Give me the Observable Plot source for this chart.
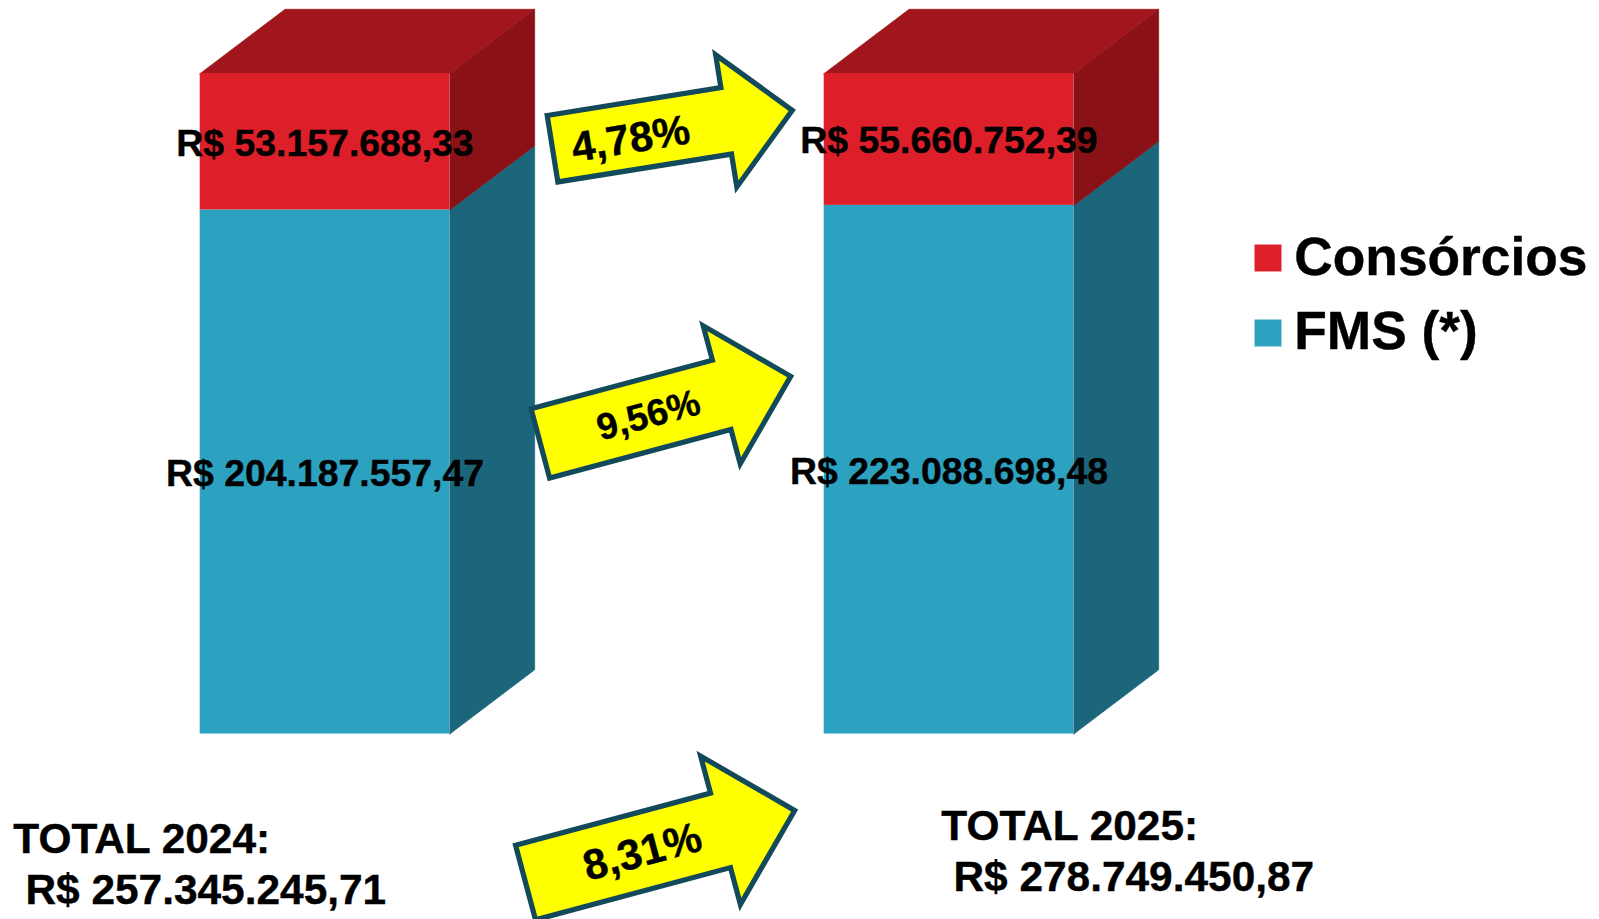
<!DOCTYPE html>
<html lang="pt-BR">
<head>
<meta charset="utf-8">
<title>Consórcios e FMS 2024–2025</title>
<style>
  html, body { margin: 0; padding: 0; background: #fff; overflow: hidden; }
  svg { display: block; }
</style>
<script src="https://cdn.jsdelivr.net/npm/d3@7"></script>
<script src="https://cdn.jsdelivr.net/npm/@observablehq/plot@0.6"></script>
</head>
<body>
<div id="chart"></div>
<script>
// ---- data
const years = ["2024", "2025"];
const seriesNames = ["FMS (*)", "Consórcios"];
const fmsValues = [204187557.47, 223088698.48];
const consorciosValues = [53157688.33, 55660752.39];
const fmsLabels = ["R$ 204.187.557,47", "R$ 223.088.698,48"];
const consorciosLabels = ["R$ 53.157.688,33", "R$ 55.660.752,39"];
const totalHeadings = ["TOTAL 2024:", "TOTAL 2025:"];
const totalLabels = ["R$ 257.345.245,71", "R$ 278.749.450,87"];
const growthLabels = ["4,78%", "9,56%", "8,31%"];

// ---- styles and layout
const font = "'Liberation Sans', Arial, sans-serif";
const barStart = [0, 2.5];                 // left edge of each bar, in bar widths
const depthX = 0.34, depthY = 9.72;        // oblique depth, in bar widths and percent
const colors = {
  "Consórcios": {front: "#dd1f2a", side: "#8a1217", top: "#a1151d"},
  "FMS (*)": {front: "#2ca2c0", side: "#1c667c"}
};
const xDomain = [0, 1], xRange = [199.7, 449.3];
const yDomain = [0, 100], yRange = [733.5, 73];
// annotation placement: pixel position to the data position of the same scales
const ax = d3.scaleLinear(xRange, xDomain);
const ay = d3.scaleLinear(yRange, yDomain);

// ---- table built from the arrays: a 100% stack per year
const segments = years.flatMap((year, i) => {
  const total = fmsValues[i] + consorciosValues[i];
  const share = fmsValues[i] / total * 100;
  return [
    {year, series: "FMS (*)", label: fmsLabels[i], x1: barStart[i], x2: barStart[i] + 1, y1: 0, y2: share},
    {year, series: "Consórcios", label: consorciosLabels[i], x1: barStart[i], x2: barStart[i] + 1, y1: share, y2: 100}
  ];
});
const faces = segments.flatMap((s) => {
  const side = [[s.x2, s.y1], [s.x2 + depthX, s.y1 + depthY], [s.x2 + depthX, s.y2 + depthY], [s.x2, s.y2], [s.x2, s.y1]]
    .map(([x, y]) => ({x, y, id: `${s.year}-${s.series}-side`, fill: colors[s.series].side}));
  const top = s.series !== "Consórcios" ? [] :
    [[s.x1, s.y2], [s.x1 + depthX, s.y2 + depthY], [s.x2 + depthX, s.y2 + depthY], [s.x2, s.y2], [s.x1, s.y2]]
    .map(([x, y]) => ({x, y, id: `${s.year}-top`, fill: colors[s.series].top}));
  return [...side, ...top];
});

// block arrow as a dot symbol; r is half its length
const blockArrow = {
  draw(context, size) {
    const r = Math.sqrt(size / Math.PI);
    const shape = [[-1, -0.277], [0.449, -0.277], [0.449, -0.551], [1, 0], [0.449, 0.551], [0.449, 0.277], [-1, 0.277]];
    shape.forEach(([x, y], i) => i ? context.lineTo(x * r, y * r) : context.moveTo(x * r, y * r));
    context.closePath();
  }
};
const arrows = [
  {cx: 671.9, cy: 129, r: 121.4, angle: -9.1, tx: 630.2, ty: 138.8, size: 42},
  {cx: 665, cy: 409.4, r: 129.6, angle: -15, tx: 648, ty: 415, size: 37.2},
  {cx: 659.6, cy: 846, r: 139.3, angle: -15, tx: 642, ty: 851.7, size: 42.5}
];
const totalsPlacement = [
  {x: 12.8, y1: 838.5, x2: 25, y2: 889.5},
  {x: 940.8, y1: 825.5, x2: 953, y2: 876.5}
];
const legendRows = [
  {series: "Consórcios", sy: 257.5, ty: 257},
  {series: "FMS (*)", sy: 332.5, ty: 331.5}
];
const textBase = {fontFamily: font, fontWeight: "bold", fill: "#000", stroke: "#000", strokeWidth: 0.4, lineAnchor: "middle"};

const chart = Plot.plot({
  width: 1599,
  height: 919,
  margin: 0,
  style: {background: "#fff", overflow: "visible"},
  x: {domain: xDomain, range: xRange, axis: null},
  y: {domain: yDomain, range: yRange, axis: null},
  color: {type: "identity"},
  marks: [
    Plot.line(faces, {x: "x", y: "y", z: "id", fill: "fill", stroke: "fill", strokeWidth: 0.7}),
    Plot.rect(segments, {
      x1: "x1", x2: "x2", y1: "y1", y2: "y2",
      fill: (d) => colors[d.series].front
    }),
    Plot.text(segments, {
      ...textBase,
      x: (d) => (d.x1 + d.x2) / 2,
      y: (d) => (d.y1 + d.y2) / 2,
      text: "label",
      fontSize: 37.4,
      dy: 2
    }),
    ...arrows.flatMap((a, i) => [
      Plot.dot([a], {
        x: (d) => ax(d.cx), y: (d) => ay(d.cy),
        symbol: blockArrow, r: a.r, rotate: a.angle,
        fill: "#ffff00", stroke: "#124a5b", strokeWidth: 5.2,
        strokeLinejoin: "miter", strokeMiterlimit: 10
      }),
      Plot.text([growthLabels[i]], {
        ...textBase,
        x: () => ax(a.tx), y: () => ay(a.ty),
        text: (d) => d, rotate: a.angle, fontSize: a.size
      })
    ]),
    Plot.text(totalHeadings, {
      ...textBase,
      x: (d, i) => ax(totalsPlacement[i].x), y: (d, i) => ay(totalsPlacement[i].y1),
      text: (d) => d, textAnchor: "start", fontSize: 42.4
    }),
    Plot.text(totalLabels, {
      ...textBase,
      x: (d, i) => ax(totalsPlacement[i].x2), y: (d, i) => ay(totalsPlacement[i].y2),
      text: (d) => d, textAnchor: "start", fontSize: 42.4
    }),
    Plot.dot(legendRows, {
      x: () => ax(1267.5), y: (d) => ay(d.sy),
      symbol: "square", r: 15.2, stroke: "none",
      fill: (d) => colors[d.series].front
    }),
    Plot.text(legendRows, {
      ...textBase,
      x: () => ax(1293.8), y: (d) => ay(d.ty),
      text: "series", textAnchor: "start", fontSize: 53.3
    })
  ]
});
document.getElementById("chart").append(chart);
</script>
</body>
</html>
